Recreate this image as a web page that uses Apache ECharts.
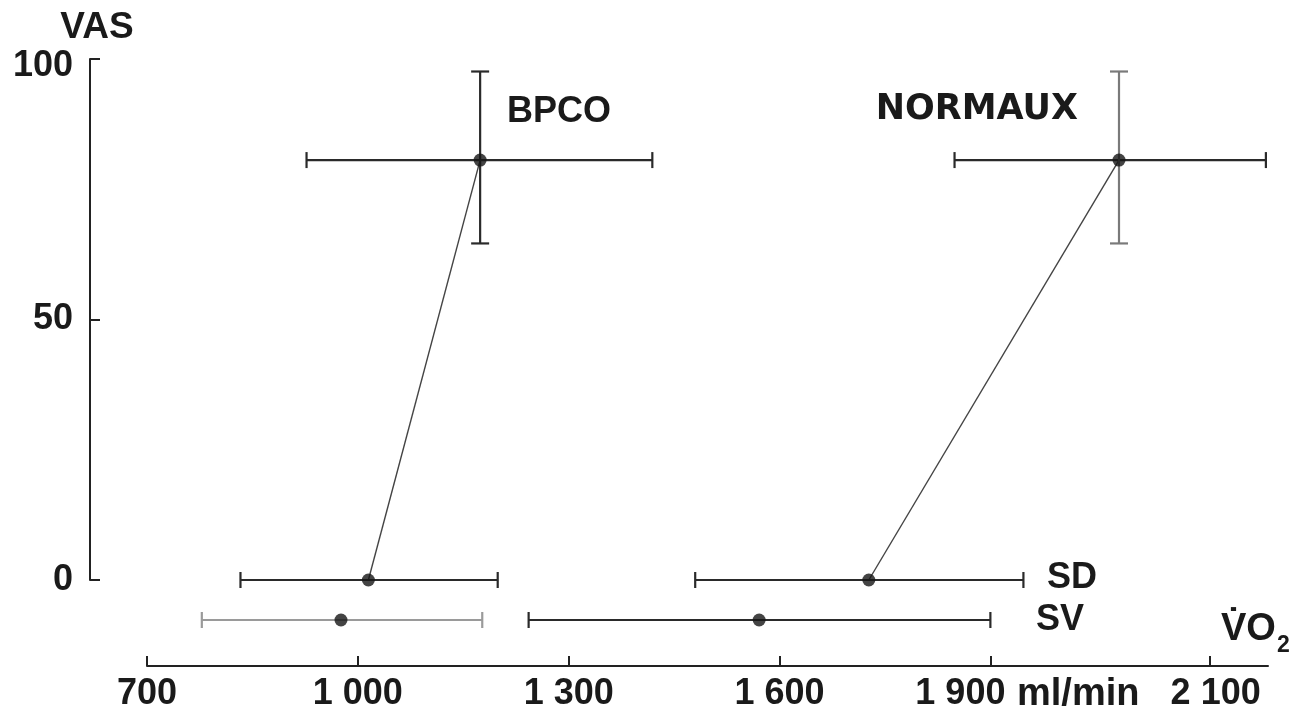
<!DOCTYPE html>
<html>
<head>
<meta charset="utf-8">
<script src="https://cdn.jsdelivr.net/npm/echarts@6/dist/echarts.min.js"></script>
<style>
html,body{margin:0;padding:0;background:#fff;}
#chart{width:1296px;height:714px;}
</style>
</head>
<body>
<div id="chart"></div>
<script>
// ---------- data ----------
const groups = ['BPCO', 'NORMAUX'];
// SD row (VAS = 0)
const sdVO2Mean = [1015, 1727];
const sdVO2Low  = [833, 1480];
const sdVO2High = [1199, 1947];
// end-of-exercise points
const maxVO2Mean = [1174, 2083];
const maxVO2Low  = [927, 1849];
const maxVO2High = [1419, 2292];
const maxVasMean = [80.6, 80.6];
const maxVasLow  = [64.6, 64.6];
const maxVasHigh = [97.6, 97.6];
// SV row
const svVO2Mean = [976, 1571];
const svVO2Low  = [778, 1243];
const svVO2High = [1177, 1900];
// axes
const xTickValues = [700, 1000, 1300, 1600, 1900, 2212];
const xTickLabels = ['700', '1 000', '1 300', '1 600', '1 900', '2 100'];
const yTickValues = [0, 50, 100];
const svRow = ['SV'];

// ---------- styles ----------
const FONT = "'Liberation Sans', Arial, sans-serif";
const WIDE_FONT = "'DejaVu Sans', 'Liberation Sans', sans-serif";
const DARK = '#222222';
const TXT = '#1a1a1a';
const vBarColor = ['#2a2a2a', '#7a7a7a'];
const svBarColor = ['#9a9a9a', '#2a2a2a'];
const BAR_W = 2.2;

function hBar(color, capH) {
  return function (params, api) {
    const y = api.value(2);
    const p1 = api.coord([api.value(0), y]);
    const p2 = api.coord([api.value(1), y]);
    const st = { stroke: color, lineWidth: BAR_W };
    return { type: 'group', children: [
      { type: 'line', shape: { x1: p1[0], y1: p1[1], x2: p2[0], y2: p2[1] }, style: st },
      { type: 'line', shape: { x1: p1[0], y1: p1[1] - capH, x2: p1[0], y2: p1[1] + capH }, style: st },
      { type: 'line', shape: { x1: p2[0], y1: p2[1] - capH, x2: p2[0], y2: p2[1] + capH }, style: st }
    ]};
  };
}
function vBar(color, capW) {
  return function (params, api) {
    const x = api.value(0);
    const p1 = api.coord([x, api.value(1)]);
    const p2 = api.coord([x, api.value(2)]);
    const st = { stroke: color, lineWidth: BAR_W };
    return { type: 'group', children: [
      { type: 'line', shape: { x1: p1[0], y1: p1[1], x2: p2[0], y2: p2[1] }, style: st },
      { type: 'line', shape: { x1: p1[0] - capW, y1: p1[1], x2: p1[0] + capW, y2: p1[1] }, style: st },
      { type: 'line', shape: { x1: p2[0] - capW, y1: p2[1], x2: p2[0] + capW, y2: p2[1] }, style: st }
    ]};
  };
}

const series = [];
groups.forEach(function (g, i) {
  series.push({
    name: g + ' line', type: 'line', xAxisIndex: 0, yAxisIndex: 0,
    data: [[sdVO2Mean[i], 0], [maxVO2Mean[i], maxVasMean[i]]],
    symbol: 'none', lineStyle: { color: '#444', width: 1.4 }, z: 2, silent: true
  });
  series.push({
    name: g + ' hbars', type: 'custom', xAxisIndex: 0, yAxisIndex: 0,
    renderItem: hBar('#2a2a2a', 8),
    data: [[sdVO2Low[i], sdVO2High[i], 0], [maxVO2Low[i], maxVO2High[i], maxVasMean[i]]],
    z: 3, silent: true
  });
  series.push({
    name: g + ' vbar', type: 'custom', xAxisIndex: 0, yAxisIndex: 0,
    renderItem: vBar(vBarColor[i], 9),
    data: [[maxVO2Mean[i], maxVasLow[i], maxVasHigh[i]]],
    z: 3, silent: true
  });
  series.push({
    name: g + ' sv bar', type: 'custom', xAxisIndex: 1, yAxisIndex: 1,
    renderItem: hBar(svBarColor[i], 8),
    data: [[svVO2Low[i], svVO2High[i], 0]],
    z: 3, silent: true
  });
  series.push({
    name: g + ' points', type: 'scatter', xAxisIndex: 0, yAxisIndex: 0,
    data: [[sdVO2Mean[i], 0], [maxVO2Mean[i], maxVasMean[i]]],
    symbolSize: 13, itemStyle: { color: '#151515' }, z: 5, silent: true
  });
  series.push({
    name: g + ' sv point', type: 'scatter', xAxisIndex: 1, yAxisIndex: 1,
    data: [[svVO2Mean[i], 0]],
    symbolSize: 13, itemStyle: { color: '#151515' }, z: 5, silent: true
  });
});

function txt(text, size, family) {
  return { text: text, fontFamily: family || FONT, fontWeight: 'bold', fontSize: size, fill: TXT };
}
const richBase = { fontFamily: FONT, fontWeight: 'bold', fontSize: 36, color: TXT };

const chart = echarts.init(document.getElementById('chart'), null, { renderer: 'canvas' });
chart.setOption({
  animation: false,
  backgroundColor: '#ffffff',
  grid: [
    { left: 147, right: 28, top: 59, bottom: 134 },
    { left: 147, right: 28, top: 574, bottom: 48 }
  ],
  xAxis: [
    { type: 'value', gridIndex: 0, min: 700, max: 2295, show: false },
    {
      type: 'value', gridIndex: 1, min: 700, max: 2295,
      axisLine: { show: true, lineStyle: { color: DARK, width: 2 } },
      axisTick: { show: true, inside: true, length: 10, customValues: xTickValues, lineStyle: { color: DARK, width: 2 } },
      axisLabel: {
        show: true, customValues: xTickValues, margin: 10,
        fontFamily: FONT, fontWeight: 'bold', fontSize: 36, color: TXT,
        formatter: function (v) {
          const idx = xTickValues.indexOf(v);
          const t = idx >= 0 ? xTickLabels[idx] : '';
          if (idx === 4) return '{l|' + t + '}';
          if (idx === 5) return '{r|' + t + '}';
          return t;
        },
        rich: {
          l: Object.assign({ padding: [0, 60, 0, 0] }, richBase),
          r: Object.assign({ padding: [0, 0, 0, 12] }, richBase)
        }
      },
      splitLine: { show: false }
    }
  ],
  yAxis: [
    {
      type: 'value', gridIndex: 0, min: 0, max: 100, interval: 50, offset: 57,
      name: 'VAS', nameLocation: 'end', nameGap: 13,
      nameTextStyle: { fontFamily: FONT, fontWeight: 'bold', fontSize: 37, color: TXT, padding: [0, 0, 0, 14] },
      axisLine: { show: true, lineStyle: { color: DARK, width: 2 } },
      axisTick: { show: true, inside: true, length: 10, lineStyle: { color: DARK, width: 2 } },
      axisLabel: {
        margin: 17, fontFamily: FONT, fontWeight: 'bold', fontSize: 36, color: TXT,
        formatter: function (v) { return v === 100 ? '{t|' + v + '}' : String(v); },
        rich: { t: Object.assign({ padding: [14, 0, 0, 0] }, richBase) }
      },
      splitLine: { show: false }
    },
    { type: 'category', gridIndex: 1, data: svRow, show: false }
  ],
  graphic: [
    { type: 'text', left: 507, top: 94, style: txt(groups[0], 36) },
    { type: 'text', right: 1296 - 1078, top: 92, style: txt(groups[1], 35, WIDE_FONT) },
    { type: 'text', left: 1047, top: 560, style: txt('SD', 36) },
    { type: 'text', left: 1036, top: 602, style: txt('SV', 36) },
    { type: 'text', left: 1017, top: 676, style: txt('ml/min', 38) },
    { type: 'text', left: 1221, top: 611, style: txt('V\u0307O', 38) },
    { type: 'text', left: 1277, top: 634, style: txt('2', 23) }
  ],
  series: series
});
</script>
</body>
</html>
